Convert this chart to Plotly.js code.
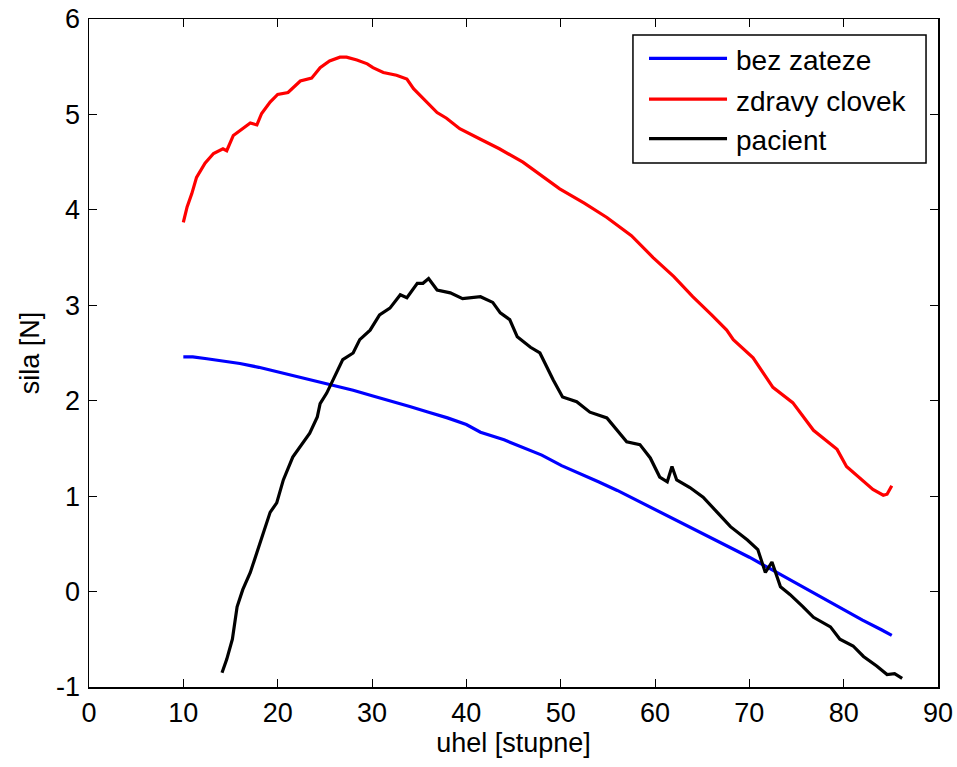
<!DOCTYPE html>
<html><head><meta charset="utf-8">
<script src="https://cdn.plot.ly/plotly-3.0.1.min.js"></script>
<style>html,body{margin:0;padding:0;background:#fff}</style>
</head><body>
<div id="chart" style="width:957px;height:767px"></div>
<script>
var seriesNames = ["bez zateze", "zdravy clovek", "pacient"];
var seriesColors = ["#0000ff", "#ff0000", "#000000"];

var blueX = [10.0, 11.0, 12.5, 14.0, 16.0, 18.0, 20.1, 22.0, 24.0, 25.9, 28.0, 30.1, 32.0, 34.0, 36.0, 38.0, 40.0, 41.5, 44.0, 46.0, 48.0, 50.1, 52.0, 54.0, 56.0, 58.0, 60.1, 62.0, 64.0, 66.0, 68.0, 70.0, 72.0, 74.0, 76.0, 78.0, 80.0, 82.0, 84.0, 85.1];
var blueY = [2.46, 2.46, 2.44, 2.42, 2.39, 2.35, 2.30, 2.26, 2.21, 2.16, 2.11, 2.05, 2.00, 1.94, 1.88, 1.82, 1.75, 1.67, 1.59, 1.51, 1.43, 1.32, 1.24, 1.15, 1.06, 0.96, 0.85, 0.76, 0.66, 0.56, 0.46, 0.36, 0.25, 0.14, 0.03, -0.08, -0.19, -0.30, -0.40, -0.46];

var redX = [10.0, 10.4, 10.9, 11.4, 12.3, 13.2, 14.2, 14.6, 15.3, 16.3, 17.1, 17.8, 18.3, 19.2, 20.0, 21.1, 22.4, 23.6, 24.5, 25.5, 26.6, 27.3, 28.4, 29.5, 30.1, 31.2, 32.6, 33.7, 34.4, 35.1, 35.8, 36.9, 37.9, 39.3, 41.5, 43.5, 46.0, 48.0, 49.9, 52.5, 54.9, 57.5, 59.8, 62.0, 64.0, 66.0, 67.6, 68.3, 70.4, 72.5, 74.6, 76.8, 79.3, 80.3, 81.7, 83.1, 84.2, 84.6, 85.1];
var redY = [3.87, 4.03, 4.17, 4.34, 4.49, 4.59, 4.64, 4.62, 4.78, 4.85, 4.91, 4.89, 5.01, 5.13, 5.21, 5.23, 5.35, 5.38, 5.49, 5.56, 5.60, 5.60, 5.57, 5.53, 5.49, 5.44, 5.41, 5.37, 5.27, 5.20, 5.13, 5.02, 4.96, 4.85, 4.74, 4.64, 4.50, 4.36, 4.22, 4.07, 3.92, 3.73, 3.50, 3.30, 3.09, 2.90, 2.74, 2.64, 2.45, 2.14, 1.98, 1.69, 1.49, 1.31, 1.19, 1.07, 1.01, 1.02, 1.11];

var blackX = [14.1, 14.6, 15.2, 15.7, 16.3, 17.1, 17.8, 18.5, 19.2, 19.9, 20.6, 21.6, 22.7, 23.4, 24.2, 24.5, 25.2, 25.9, 26.9, 28.0, 28.7, 29.8, 30.8, 31.9, 33.0, 33.7, 34.8, 35.4, 36.0, 36.9, 38.3, 39.6, 41.1, 41.5, 42.8, 43.6, 44.6, 45.4, 46.8, 47.8, 49.2, 50.2, 51.7, 53.1, 54.9, 56.0, 57.0, 58.4, 59.5, 60.5, 61.3, 61.8, 62.3, 63.7, 65.1, 66.6, 68.0, 69.8, 70.9, 71.7, 72.4, 73.3, 74.3, 75.7, 76.8, 78.6, 79.6, 81.0, 82.1, 83.5, 84.6, 85.4, 86.2];
var blackY = [-0.85, -0.71, -0.50, -0.16, 0.02, 0.20, 0.41, 0.62, 0.83, 0.93, 1.17, 1.41, 1.56, 1.66, 1.83, 1.97, 2.08, 2.22, 2.43, 2.50, 2.64, 2.74, 2.90, 2.97, 3.11, 3.08, 3.23, 3.23, 3.28, 3.16, 3.13, 3.07, 3.09, 3.09, 3.03, 2.92, 2.85, 2.67, 2.56, 2.50, 2.22, 2.04, 1.99, 1.88, 1.82, 1.69, 1.57, 1.54, 1.40, 1.20, 1.15, 1.31, 1.17, 1.09, 0.99, 0.83, 0.68, 0.54, 0.44, 0.20, 0.31, 0.05, -0.03, -0.16, -0.27, -0.37, -0.50, -0.57, -0.68, -0.78, -0.87, -0.86, -0.91];

var xTicks = [0, 10, 20, 30, 40, 50, 60, 70, 80, 90];
var yTicks = [-1, 0, 1, 2, 3, 4, 5, 6];

var font = "Arial, 'Liberation Sans', sans-serif";
var traces = [
  {x: blueX, y: blueY, name: seriesNames[0], mode: "lines", line: {color: seriesColors[0], width: 3.2}},
  {x: redX, y: redY, name: seriesNames[1], mode: "lines", line: {color: seriesColors[1], width: 3.2}},
  {x: blackX, y: blackY, name: seriesNames[2], mode: "lines", line: {color: seriesColors[2], width: 3.2}}
];

// manual MATLAB-style legend (paper coordinates)
var legBox = {x0: 0.6407, x1: 0.9859, y0: 0.7844, y1: 0.976};
var legRowsY = [0.941, 0.880, 0.821];
var shapes = [{type: "rect", xref: "paper", yref: "paper", x0: legBox.x0, x1: legBox.x1, y0: legBox.y0, y1: legBox.y1,
  line: {color: "#000", width: 1.5}, fillcolor: "#fff", layer: "above"}];
var annotations = [];
for (var i = 0; i < seriesNames.length; i++) {
  shapes.push({type: "line", xref: "paper", yref: "paper", x0: 0.6596, x1: 0.7515, y0: legRowsY[i], y1: legRowsY[i],
    line: {color: seriesColors[i], width: 3.2}, layer: "above"});
  annotations.push({xref: "paper", yref: "paper", x: 0.760, y: legRowsY[i] - 0.003, xanchor: "left", yanchor: "middle",
    text: seriesNames[i], showarrow: false, font: {family: font, size: 28, color: "#000"}});
}

var axisBase = {showgrid: false, zeroline: false, showline: true, linecolor: "#000", linewidth: 1.5,
  mirror: "ticks", ticks: "inside", ticklen: 8, tickcolor: "#000", tickwidth: 1,
  tickfont: {family: font, size: 27, color: "#000"}};
var layout = {
  width: 957, height: 767,
  margin: {l: 89, r: 19, t: 19, b: 80},
  paper_bgcolor: "#fff", plot_bgcolor: "#fff",
  font: {family: font, color: "#000"},
  showlegend: false,
  shapes: shapes,
  annotations: annotations,
  xaxis: Object.assign({}, axisBase, {range: [0, 90], tickvals: xTicks, ticktext: xTicks.map(String),
    ticklabelstandoff: 1,
    title: {text: "uhel [stupne]", font: {family: font, size: 27, color: "#000"}, standoff: 2}}),
  yaxis: Object.assign({}, axisBase, {range: [-1, 6], tickvals: yTicks, ticktext: yTicks.map(String),
    ticklabelstandoff: 2,
    title: {text: "sila [N]", font: {family: font, size: 27, color: "#000"}, standoff: 8}})
};
Plotly.newPlot("chart", traces, layout, {displayModeBar: false, staticPlot: true});
</script>
</body></html>
